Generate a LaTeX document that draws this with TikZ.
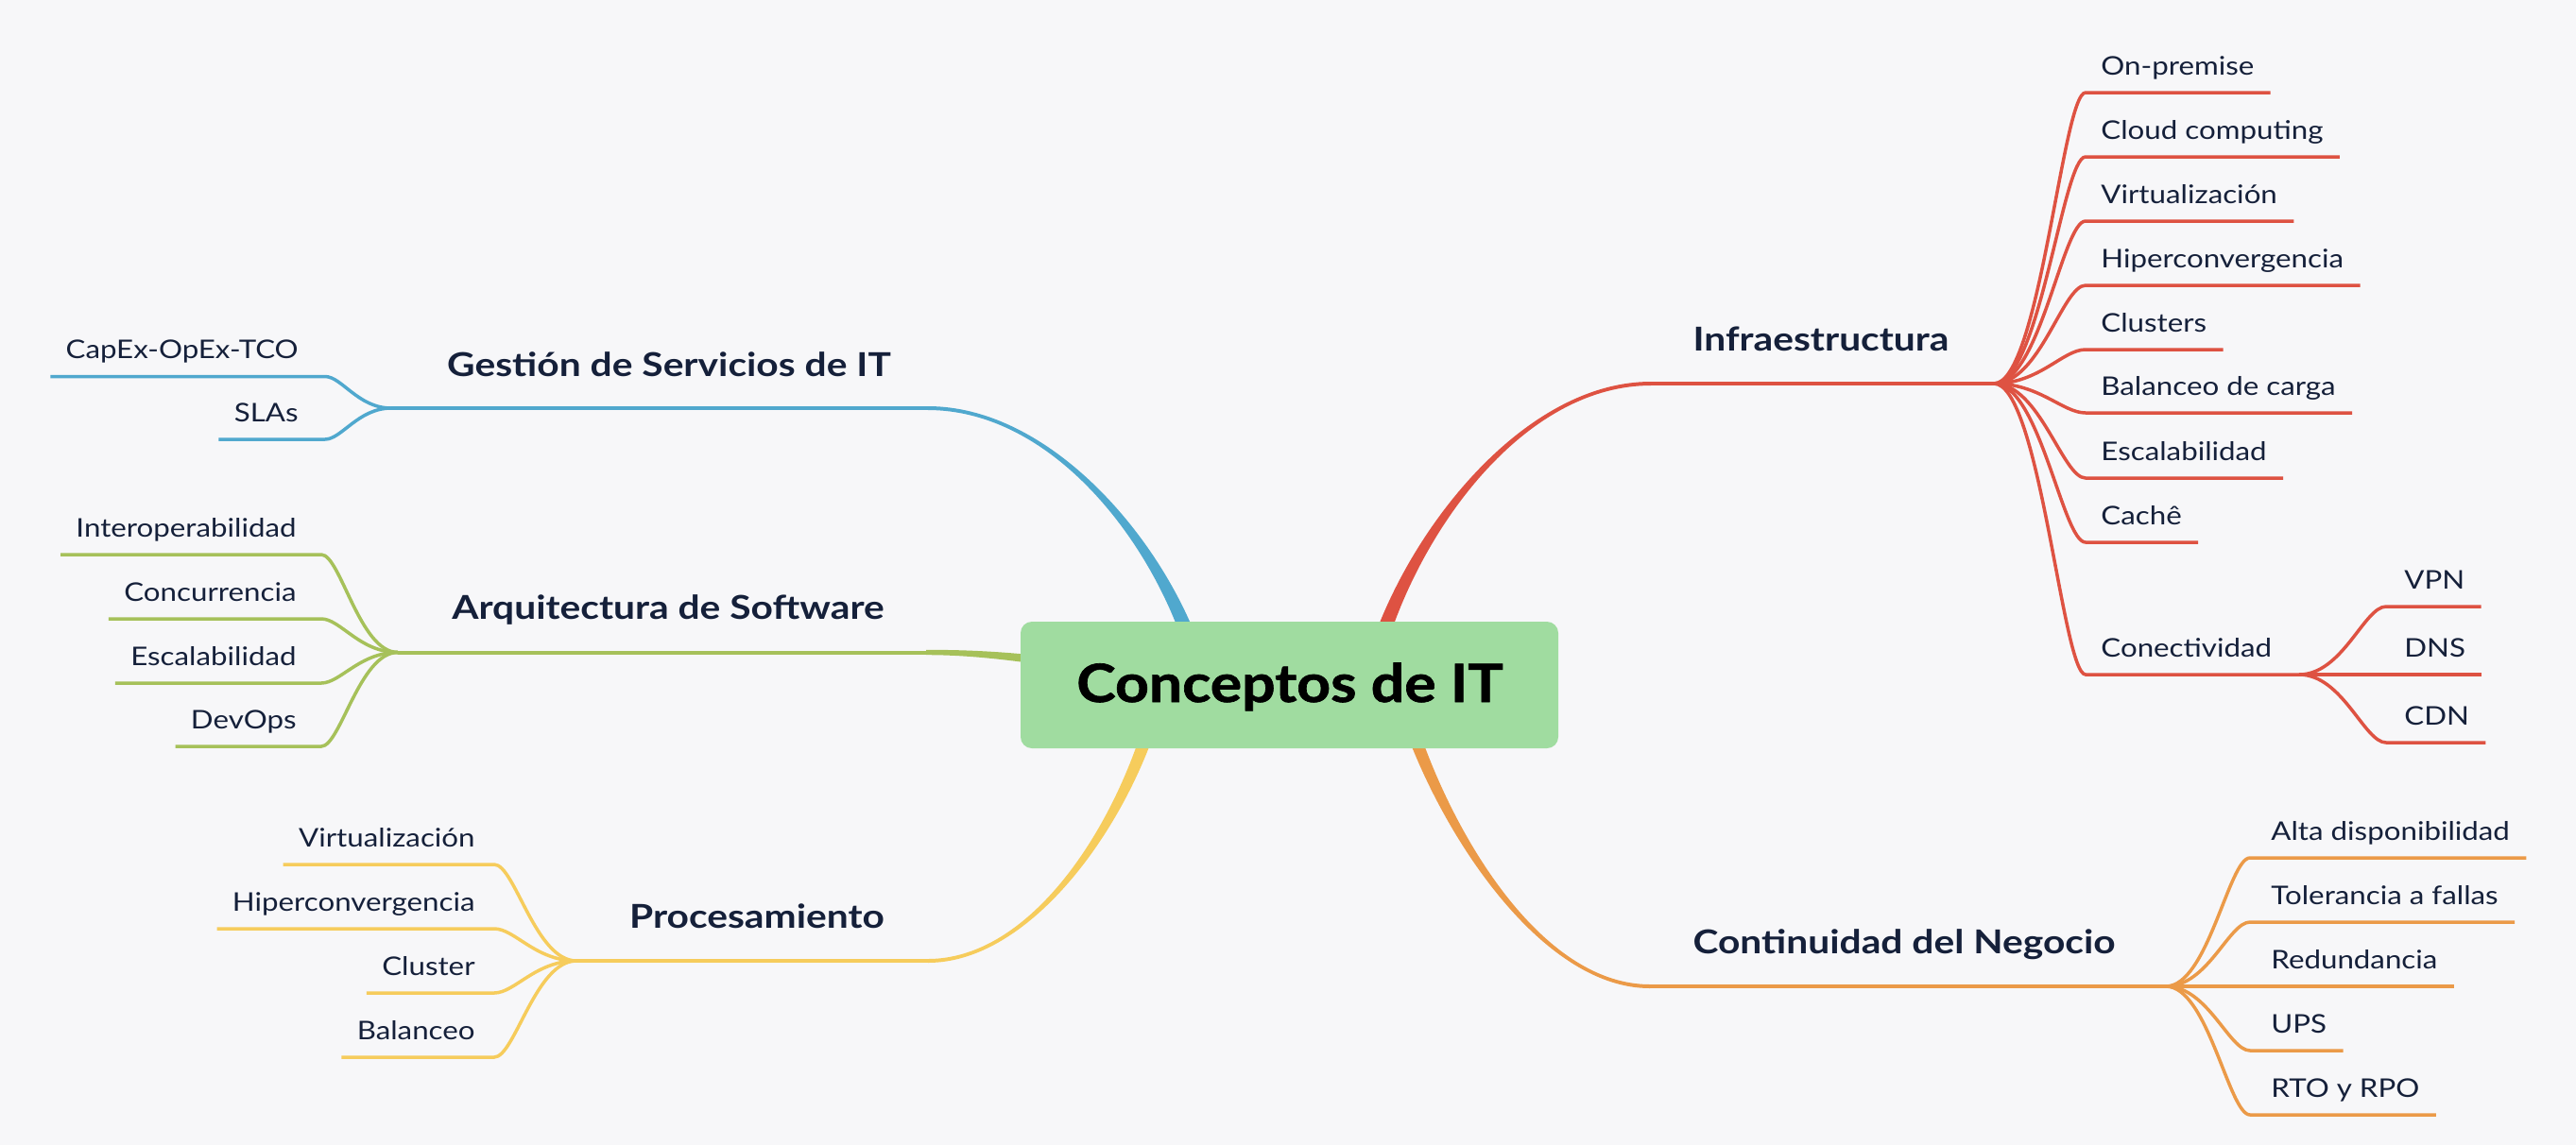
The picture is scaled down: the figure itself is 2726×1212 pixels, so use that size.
\documentclass[tikz,border=0pt]{standalone}
\usepackage{fontspec}
\setmainfont{Lato}
\newfontfamily\leaffont{Lato}[FakeStretch=1.15]
\newfontfamily\topicfont{Lato}[FakeStretch=1.17]
\newfontfamily\heavyfont{Lato}[FakeBold=1.2,FakeStretch=1.12]
\usetikzlibrary{calc}
\definecolor{bg}{HTML}{F7F7F9}
\definecolor{ink}{HTML}{15203A}
\definecolor{infra}{HTML}{DE5242}
\definecolor{gest}{HTML}{50A8CE}
\definecolor{arq}{HTML}{A6C15A}
\definecolor{proc}{HTML}{F6CC5C}
\definecolor{cont}{HTML}{EB9A48}
\definecolor{boxgreen}{HTML}{A0DCA0}
\tikzset{
  leaf/.style={font=\fontsize{13.6pt}{16pt}\leaffont, text=ink, inner sep=0pt},
  topic/.style={font=\fontsize{17.4pt}{20pt}\topicfont\bfseries, text=ink, inner sep=0pt, anchor=base},
  leafline/.style={draw=cur, line width=1.75pt},
  mainline/.style={draw=cur, line width=2pt},
  centerbox/.style={fill=boxgreen, rounded corners=6pt, minimum width=284.5pt, minimum height=67pt, inner sep=0pt},
}
% right leaf: name, junction, Jx, Jy, line start x, text x, line y, text
\newcommand\rleaf[8]{%
  \coordinate (#1s) at (#5,#7);
  \node[leaf, anchor=base west] (#1) at (#6,#7-19) {#8};
  \coordinate (#1e) at ($(#1.base east)+(17,19)$);
  \draw[leafline] (#2) .. controls ({#3+0.5*(#5-#3)},#4) and ({#3+0.75*(#5-#3)},#7) .. (#1s) -- (#1e);
}
% left leaf: name, junction, Jx, Jy, line end x, text right x, line y, text
\newcommand\lleaf[8]{%
  \coordinate (#1s) at (#5,#7);
  \node[leaf, anchor=base east] (#1) at (#6,#7-19) {#8};
  \coordinate (#1e) at ($(#1.base west)+(-16,19)$);
  \draw[leafline] (#2) .. controls ({#3+0.5*(#5-#3)},#4) and ({#3+0.75*(#5-#3)},#7) .. (#1s) -- (#1e);
}
\begin{document}
\begin{tikzpicture}[x=0.5pt,y=-0.5pt]
\useasboundingbox (0,0) rectangle (2726,1212);
\fill[bg] (0,0) rectangle (2726,1212);

% ---------- main tapered branches ----------
% Infraestructura (red)
\coordinate (r0) at (1463,672); \coordinate (r1) at (1508,545);
\coordinate (r2) at (1620,406); \coordinate (r3) at (1747,406);
\fill[infra] ($(r0)+(-8,0)$) .. controls ($(r1)+(-6,0)$) and ($(r2)+(0,-2)$) .. ($(r3)+(0,-2)$)
  -- ($(r3)+(0,2)$) .. controls ($(r2)+(0,2)$) and ($(r1)+(6,0)$) .. ($(r0)+(8,0)$) -- cycle;
% Gestion (blue)
\coordinate (b0) at (1257,672); \coordinate (b1) at (1212,555);
\coordinate (b2) at (1104,432); \coordinate (b3) at (982,432);
\fill[gest] ($(b0)+(-8,0)$) .. controls ($(b1)+(-6,0)$) and ($(b2)+(0,2)$) .. ($(b3)+(0,2)$)
  -- ($(b3)+(0,-2)$) .. controls ($(b2)+(0,-2)$) and ($(b1)+(6,0)$) .. ($(b0)+(8,0)$) -- cycle;
% Procesamiento (yellow)
\coordinate (y0) at (1213,780); \coordinate (y1) at (1172,897);
\coordinate (y2) at (1082,1017); \coordinate (y3) at (982,1017);
\fill[proc] ($(y0)+(-7,0)$) .. controls ($(y1)+(-5.5,0)$) and ($(y2)+(0,-2)$) .. ($(y3)+(0,-2)$)
  -- ($(y3)+(0,2)$) .. controls ($(y2)+(0,2)$) and ($(y1)+(5.5,0)$) .. ($(y0)+(7,0)$) -- cycle;
% Continuidad (orange)
\coordinate (o0) at (1497,780); \coordinate (o1) at (1540,897);
\coordinate (o2) at (1636,1044); \coordinate (o3) at (1746,1044);
\fill[cont] ($(o0)+(-7,0)$) .. controls ($(o1)+(-5.5,0)$) and ($(o2)+(0,2)$) .. ($(o3)+(0,2)$)
  -- ($(o3)+(0,-2)$) .. controls ($(o2)+(0,-2)$) and ($(o1)+(5.5,0)$) .. ($(o0)+(7,0)$) -- cycle;
% Arquitectura (green)
\coordinate (g0) at (1095,698); \coordinate (g1) at (1045,692);
\coordinate (g2) at (1010,690.5); \coordinate (g3) at (980,690.5);
\fill[arq] ($(g0)+(0,-4.5)$) .. controls ($(g1)+(0,-3.5)$) and ($(g2)+(0,-2.7)$) .. ($(g3)+(0,-2.7)$)
  -- ($(g3)+(0,2.7)$) .. controls ($(g2)+(0,2.7)$) and ($(g1)+(0,3.5)$) .. ($(g0)+(0,4.5)$) -- cycle;

% ---------- central topic ----------
\node[centerbox] (c) at (1364.5,725) {};
\node[anchor=base, inner sep=0pt, text=black, font=\fontsize{27.9pt}{32pt}\heavyfont\bfseries] (ct) at (1365,743) {Conceptos de IT};

% ---------- Infraestructura ----------
\colorlet{cur}{infra}
\coordinate (iJ) at (2110,406);
\draw[mainline] (r3) -- (iJ);
\node[topic] (infra) at (1927,371) {Infraestructura};
\rleaf{i1}{iJ}{2110}{406}{2207}{2223}{98}{On-premise}
\rleaf{i2}{iJ}{2110}{406}{2207}{2223}{166}{Cloud computing}
\rleaf{i3}{iJ}{2110}{406}{2207}{2223}{234}{Virtualización}
\rleaf{i4}{iJ}{2110}{406}{2207}{2223}{302}{Hiperconvergencia}
\rleaf{i5}{iJ}{2110}{406}{2207}{2223}{370}{Clusters}
\rleaf{i6}{iJ}{2110}{406}{2207}{2223}{437}{Balanceo de carga}
\rleaf{i7}{iJ}{2110}{406}{2207}{2223}{506}{Escalabilidad}
\rleaf{i8}{iJ}{2110}{406}{2207}{2223}{574}{Cachê}
% Conectividad
\coordinate (i9s) at (2207,714);
\coordinate (nJ) at (2433,714);
\node[leaf, anchor=base west] (i9) at (2223,695) {Conectividad};
\draw[leafline] (iJ) .. controls (2158.5,406) and (2182.75,714) .. (i9s) -- (nJ);
\rleaf{n1}{nJ}{2433}{714}{2525}{2544}{642}{VPN}
\rleaf{n2}{nJ}{2433}{714}{2525}{2544}{714}{DNS}
\rleaf{n3}{nJ}{2433}{714}{2525}{2544}{786}{CDN}

% ---------- Continuidad del Negocio ----------
\colorlet{cur}{cont}
\coordinate (oJ) at (2292,1044);
\draw[mainline] (o3) -- (oJ);
\node[topic] (contn) at (2015,1009) {Continuidad del Negocio};
\rleaf{o4}{oJ}{2292}{1044}{2381}{2403}{908}{Alta disponibilidad}
\rleaf{o5}{oJ}{2292}{1044}{2381}{2403}{976}{Tolerancia a fallas}
\rleaf{o6}{oJ}{2292}{1044}{2381}{2403}{1044}{Redundancia}
\rleaf{o7}{oJ}{2292}{1044}{2381}{2403}{1112}{UPS}
\rleaf{o8}{oJ}{2292}{1044}{2381}{2403}{1180}{RTO y RPO}

% ---------- Gestion de Servicios de IT ----------
\colorlet{cur}{gest}
\coordinate (bJ) at (414,432);
\draw[mainline] (b3) -- (bJ);
\node[topic] (gestn) at (708,398) {Gestión de Servicios de IT};
\lleaf{b4}{bJ}{414}{432}{344}{316}{398.5}{CapEx-OpEx-TCO}
\lleaf{b5}{bJ}{414}{432}{344}{316}{465}{SLAs}

% ---------- Arquitectura de Software ----------
\colorlet{cur}{arq}
\coordinate (gJ) at (421,690.5);
\draw[mainline] (g3) -- (gJ);
\node[topic] (arqn) at (707,655) {Arquitectura de Software};
\lleaf{g4}{gJ}{421}{690.5}{340}{314}{587}{Interoperabilidad}
\lleaf{g5}{gJ}{421}{690.5}{340}{314}{655}{Concurrencia}
\lleaf{g6}{gJ}{421}{690.5}{340}{314}{723}{Escalabilidad}
\lleaf{g7}{gJ}{421}{690.5}{340}{314}{790}{DevOps}

% ---------- Procesamiento ----------
\colorlet{cur}{proc}
\coordinate (yJ) at (610,1017);
\draw[mainline] (y3) -- (yJ);
\node[topic] (procn) at (801,982) {Procesamiento};
\lleaf{y4}{yJ}{610}{1017}{523}{503}{915}{Virtualización}
\lleaf{y5}{yJ}{610}{1017}{523}{503}{983}{Hiperconvergencia}
\lleaf{y6}{yJ}{610}{1017}{523}{503}{1051}{Cluster}
\lleaf{y7}{yJ}{610}{1017}{523}{503}{1119}{Balanceo}
\end{tikzpicture}
\end{document}
